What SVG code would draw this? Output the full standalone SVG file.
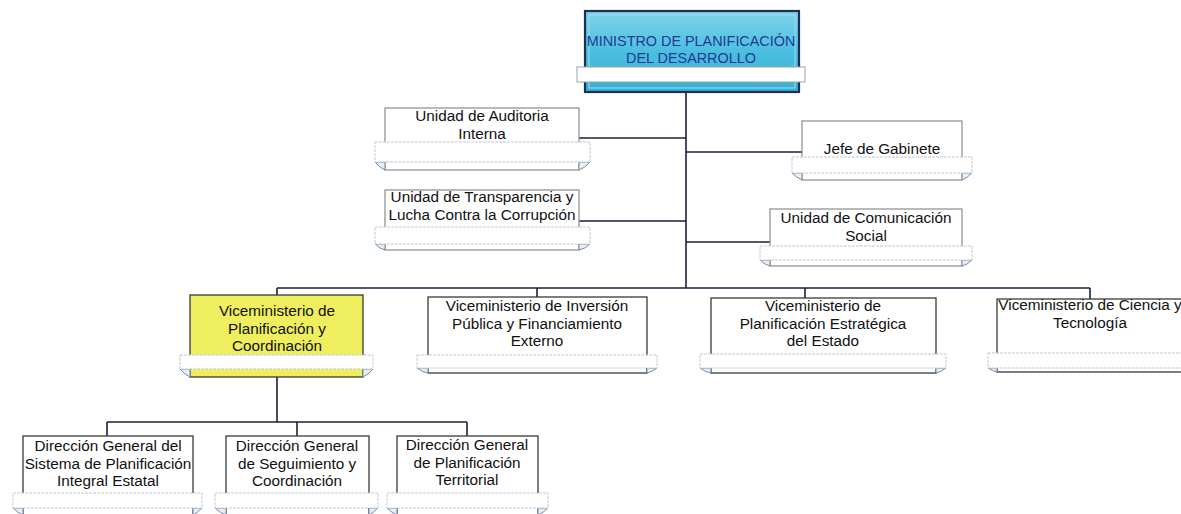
<svg xmlns="http://www.w3.org/2000/svg" width="1181" height="514" viewBox="0 0 1181 514">
<defs>
<linearGradient id="gTop" x1="0" y1="0" x2="0" y2="1">
<stop offset="0" stop-color="#7fd3ea"/>
<stop offset="0.5" stop-color="#4cbfe0"/>
<stop offset="1" stop-color="#36aed3"/>
</linearGradient>
<style>
.box{fill:#ffffff;stroke:#8c8c8c;stroke-width:1.2}
.boxd{fill:#ffffff;stroke:#3a3a3a;stroke-width:1.3}
.yel{fill:#eeee5e;stroke:#3a3a3a;stroke-width:1.3}
.top{fill:url(#gTop);stroke:#1e2f52;stroke-width:2.2}
.ban{fill:#ffffff;stroke:#c2cad4;stroke-width:1;stroke-dasharray:3 1}
.tab{fill:#e8eef5;stroke:#7a8ea8;stroke-width:1}
.t{font-family:"Liberation Sans",Arial,sans-serif;font-size:15.3px;fill:#111;text-anchor:middle}
.tt{font-family:"Liberation Sans",Arial,sans-serif;font-size:14.4px;fill:#1f3a93;text-anchor:middle}
.c{fill:none;stroke:#1b1f3a;stroke-width:1.6}
</style>
</defs>
<rect width="1181" height="514" fill="#ffffff"/>

<g id="connectors">
<path class="c" d="M686 92 V288"/>
<path class="c" d="M579 138 H686"/>
<path class="c" d="M579 221 H686"/>
<path class="c" d="M686 152 H802"/>
<path class="c" d="M686 242 H770"/>
<path class="c" d="M277 288 H1090"/>
<path class="c" d="M277 288 V295"/>
<path class="c" d="M537 288 V297"/>
<path class="c" d="M805 288 V298"/>
<path class="c" d="M1090 288 V299"/>
<path class="c" d="M277 377 V422"/>
<path class="c" d="M107 422 H467"/>
<path class="c" d="M107 422 V436"/>
<path class="c" d="M297 422 V436"/>
<path class="c" d="M467 422 V436"/>
</g>

<g id="ministro">
<rect class="top" x="585" y="11" width="214" height="81"/>
<rect x="589" y="15" width="206" height="73" fill="none" stroke="#9fdcee" stroke-width="1"/>
<rect class="ban" x="577" y="67" width="228" height="15" style="stroke:#9aa4ae;stroke-dasharray:none"/>
<text class="tt" x="691" y="46">MINISTRO DE PLANIFICACIÓN</text>
<text class="tt" x="691" y="63">DEL DESARROLLO</text>
</g>

<g id="auditoria">
<rect class="box" x="385" y="108" width="194" height="62"/>
<path class="tab" d="M375 162 Q380 168 385 170 V162 Z"/>
<path class="tab" d="M590 162 Q585 168 579 170 V162 Z"/>
<rect class="ban" x="375" y="142" width="215" height="20"/>
<text class="t" x="482" y="121">Unidad de Auditoria</text>
<text class="t" x="482" y="138.5">Interna</text>
</g>

<g id="transparencia">
<rect class="box" x="385" y="190" width="194" height="60"/>
<path class="tab" d="M375 244 Q380 249 385 250 V244 Z"/>
<path class="tab" d="M590 244 Q585 249 579 250 V244 Z"/>
<rect class="ban" x="375" y="227" width="215" height="17"/>
<text class="t" x="482" y="202">Unidad de Transparencia y</text>
<text class="t" x="482" y="219.5">Lucha Contra la Corrupción</text>
</g>

<g id="gabinete">
<rect class="box" x="802" y="121" width="160" height="59"/>
<path class="tab" d="M792 173 Q797 178 802 180 V173 Z"/>
<path class="tab" d="M972 173 Q967 178 962 180 V173 Z"/>
<rect class="ban" x="792" y="157" width="180" height="16"/>
<text class="t" x="882" y="154">Jefe de Gabinete</text>
</g>

<g id="comunicacion">
<rect class="box" x="770" y="209" width="192" height="57"/>
<path class="tab" d="M760 260 Q765 265 770 266 V260 Z"/>
<path class="tab" d="M972 260 Q967 265 962 266 V260 Z"/>
<rect class="ban" x="760" y="246" width="212" height="14"/>
<text class="t" x="866" y="223">Unidad de Comunicación</text>
<text class="t" x="866" y="240.5">Social</text>
</g>

<g id="vice-planificacion">
<rect class="yel" x="190" y="295" width="173" height="82"/>
<path class="tab" d="M180 369 Q185 375 190 377 V369 Z"/>
<path class="tab" d="M373 369 Q368 375 363 377 V369 Z"/>
<rect class="ban" x="180" y="355" width="193" height="14"/>
<text class="t" x="277" y="316">Viceministerio de</text>
<text class="t" x="277" y="333.5">Planificación y</text>
<text class="t" x="277" y="351">Coordinación</text>
</g>

<g id="vice-inversion">
<rect class="boxd" x="428" y="297" width="219" height="76"/>
<path class="tab" d="M417 368 Q422 372 428 373 V368 Z"/>
<path class="tab" d="M657 368 Q652 372 647 373 V368 Z"/>
<rect class="ban" x="417" y="355" width="240" height="13"/>
<text class="t" x="537" y="311">Viceministerio de Inversión</text>
<text class="t" x="537" y="328.5">Pública y Financiamiento</text>
<text class="t" x="537" y="346">Externo</text>
</g>

<g id="vice-estrategica">
<rect class="boxd" x="711" y="298" width="225" height="75"/>
<path class="tab" d="M700 368 Q705 372 711 373 V368 Z"/>
<path class="tab" d="M946 368 Q941 372 936 373 V368 Z"/>
<rect class="ban" x="700" y="354" width="246" height="14"/>
<text class="t" x="823" y="311">Viceministerio de</text>
<text class="t" x="823" y="328.5">Planificación Estratégica</text>
<text class="t" x="823" y="346">del Estado</text>
</g>

<g id="vice-ciencia">
<rect class="boxd" x="997" y="299" width="200" height="73"/>
<path class="tab" d="M988 368 Q993 371 997 372 V368 Z"/>
<rect class="ban" x="988" y="353" width="210" height="15"/>
<text class="t" x="1090" y="310">Viceministerio de Ciencia y</text>
<text class="t" x="1090" y="327.5">Tecnología</text>
</g>

<g id="dir-sistema">
<rect class="boxd" x="23" y="436" width="170" height="90"/>
<path class="tab" d="M13 508 Q18 513 23 515 V508 Z"/>
<path class="tab" d="M202 508 Q197 513 193 515 V508 Z"/>
<rect class="ban" x="13" y="493" width="189" height="15"/>
<text class="t" x="108" y="451">Dirección General del</text>
<text class="t" x="108" y="468.5">Sistema de Planificación</text>
<text class="t" x="108" y="486">Integral Estatal</text>
</g>

<g id="dir-seguimiento">
<rect class="boxd" x="226" y="436" width="143" height="90"/>
<path class="tab" d="M215 508 Q220 513 226 515 V508 Z"/>
<path class="tab" d="M378 508 Q373 513 369 515 V508 Z"/>
<rect class="ban" x="215" y="493" width="163" height="15"/>
<text class="t" x="297" y="451">Dirección General</text>
<text class="t" x="297" y="468.5">de Seguimiento y</text>
<text class="t" x="297" y="486">Coordinación</text>
</g>

<g id="dir-territorial">
<rect class="boxd" x="397" y="436" width="141" height="90"/>
<path class="tab" d="M387 508 Q392 513 397 515 V508 Z"/>
<path class="tab" d="M548 508 Q543 513 538 515 V508 Z"/>
<rect class="ban" x="387" y="493" width="161" height="15"/>
<text class="t" x="467" y="450">Dirección General</text>
<text class="t" x="467" y="467.5">de Planificación</text>
<text class="t" x="467" y="485">Territorial</text>
</g>
</svg>
